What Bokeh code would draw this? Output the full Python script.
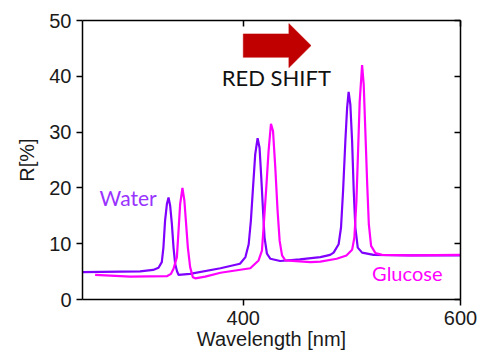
from bokeh.plotting import figure
from bokeh.models import Range1d, LinearAxis, FixedTicker, CustomLabelingPolicy
from bokeh.core.properties import value
from bokeh.embed import file_html
from bokeh.resources import INLINE

# ---- data ----
water_wl = [252, 305, 317, 322, 325, 326.5, 328, 329.7, 331.2, 332.7, 334.3, 335.8, 337.3, 339, 340.5,
            351, 379, 397, 402, 405, 407, 409, 411, 413.2, 415, 416.6, 418.2, 419.6, 421.8, 425, 434,
            452, 471, 480, 483.2, 487.8, 490, 491.9, 494, 495.6, 497, 498.6, 500.2, 501.7, 503.2, 505.4,
            509.4, 520, 554, 600]
water_r = [4.9, 5.05, 5.3, 5.7, 6.7, 9.3, 14.1, 17.1, 18.3, 16.8, 13.5, 9.3, 6.4, 5.05, 4.4,
           4.6, 5.6, 6.4, 7.6, 9.9, 14.1, 20.1, 26.0, 28.9, 27.2, 21.8, 15.9, 11.1, 8.2, 7.3, 6.9,
           7.2, 7.6, 8.0, 8.4, 9.9, 12.9, 19.5, 28.4, 34.3, 37.2, 34.9, 28.4, 19.5, 12.9, 9.3,
           8.4, 8.0, 7.9, 7.9]

glucose_wl = [263.6, 296, 330, 333.5, 335.8, 338.9, 340.4, 341.9, 344, 345.8, 347.4, 349, 351.1, 353.6,
              355.8, 365, 379, 406.5, 414.1, 417.2, 418.7, 421.2, 423.3, 425.5, 427.4, 429.5, 431.6,
              433.5, 435.7, 438.7, 462, 471, 486, 495, 500.2, 502.3, 504.2, 505.7, 507.2, 509.4, 510.9,
              512.5, 514.1, 515.6, 517.7, 521.7, 527.8, 554, 600]
glucose_r = [4.4, 4.1, 4.2, 4.6, 5.5, 7.6, 12.3, 17.1, 20.0, 17.7, 13.5, 9.3, 5.8, 4.0,
             3.8, 4.1, 4.8, 5.6, 7.0, 8.75, 12.9, 20.1, 26.6, 31.5, 30.2, 23.6, 15.9,
             10.5, 7.9, 7.0, 6.7, 6.8, 7.3, 7.9, 8.9, 11.1, 17.7, 26.6, 35.5, 42.0, 38.5,
             29.6, 20.7, 13.5, 9.6, 8.3, 8.0, 7.9, 8.0]

x_ticks = [200, 400, 600]
y_ticks = [0, 10, 20, 30, 40, 50]

# ---- styles / positions ----
WATER_LINE = "#7F00FF"
WATER_TEXT = "#9933FF"
GLUCOSE = "#FF00FF"
ARROW = "#C00000"
TICK_FONT = "Liberation Sans"
NOTE_FONT = "Lato"

p = figure(width=480, height=352, x_range=Range1d(252, 600), y_range=Range1d(0, 50),
           output_backend="svg", toolbar_location=None,
           min_border_left=82, min_border_right=20, min_border_top=20, min_border_bottom=52)
p.xgrid.visible = False
p.ygrid.visible = False
p.outline_line_color = None
p.background_fill_color = "white"
p.border_fill_color = "white"

for ax in (p.xaxis[0], p.yaxis[0]):
    ax.major_tick_in = 0
    ax.major_tick_out = 6
    ax.minor_tick_line_color = None
    ax.axis_line_width = 1.5
    ax.major_tick_line_width = 1.5
    ax.axis_line_color = "black"
    ax.major_tick_line_color = "black"
    ax.major_label_text_font = TICK_FONT
    ax.major_label_text_font_size = "20px"
    ax.major_label_text_color = "#1a1a1a"
    ax.axis_label_text_font = TICK_FONT
    ax.axis_label_text_font_size = "20px"
    ax.axis_label_text_font_style = "normal"
    ax.axis_label_text_color = "#1a1a1a"

p.xaxis[0].ticker = FixedTicker(ticks=x_ticks)
p.yaxis[0].ticker = FixedTicker(ticks=y_ticks)
p.xaxis[0].axis_label = "Wavelength [nm]"
p.yaxis[0].axis_label = "R[%]"
p.xaxis[0].major_label_standoff = 5
p.xaxis[0].axis_label_standoff = 0
p.yaxis[0].major_label_standoff = 5
p.yaxis[0].axis_label_standoff = 8

no_labels = CustomLabelingPolicy(code="""
const n = indices.size
for (let i = 0; i < n; i++) { indices.unset(i) }
return indices
""")

for loc, tick in (("right", y_ticks), ("above", x_ticks)):
    ax = LinearAxis(ticker=FixedTicker(ticks=tick))
    ax.major_tick_in = 6
    ax.major_tick_out = 0
    ax.minor_tick_line_color = None
    ax.major_label_text_font_size = "8px"
    ax.major_label_standoff = 0
    ax.major_label_policy = no_labels
    ax.axis_line_width = 1.5
    ax.major_tick_line_width = 1.5
    ax.axis_line_color = "black"
    ax.major_tick_line_color = "black"
    p.add_layout(ax, loc)

p.line(water_wl, water_r, line_color=WATER_LINE, line_width=2.2)
p.line(glucose_wl, glucose_r, line_color=GLUCOSE, line_width=2.2)

# red-shift arrow (data space)
ax0, ax_body, ax_tip, ay, body_h, head_h = 400, 442, 462.4, 45.5, 2.1, 3.95
p.patch([ax0, ax_body, ax_body, ax_tip, ax_body, ax_body, ax0],
        [ay - body_h, ay - body_h, ay - head_h, ay, ay + head_h, ay + body_h, ay + body_h],
        fill_color=ARROW, line_color=ARROW, line_width=0.5)

p.text(x=[430.4], y=[39.8], text=["RED SHIFT"], text_font=value(NOTE_FONT), text_font_size="22px",
       text_color="#111111", text_align="center", text_baseline="middle")
p.text(x=[294], y=[18.2], text=["Water"], text_font=value(NOTE_FONT), text_font_size="21px",
       text_color=WATER_TEXT, text_align="center", text_baseline="middle")
p.text(x=[551], y=[4.8], text=["Glucose"], text_font=value(NOTE_FONT), text_font_size="20px",
       text_color=GLUCOSE, text_align="center", text_baseline="middle")

open("out.html", "w").write(file_html(p, INLINE))
